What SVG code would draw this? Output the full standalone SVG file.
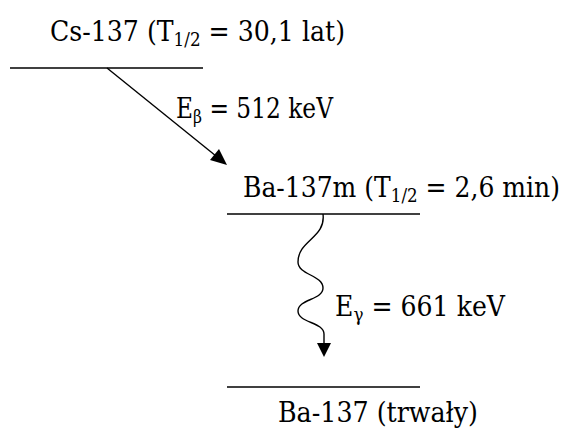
<svg xmlns="http://www.w3.org/2000/svg" width="571" height="430" viewBox="0 0 571 430">
<style>
text{font-family:'DejaVu Serif','Liberation Serif',serif;font-size:27px;fill:#000}
.s{font-size:18px}
.lv{stroke:#000;stroke-width:1.4;fill:none}
.c{stroke:#000;stroke-width:1.4;fill:none}
</style>
<rect width="571" height="430" fill="#fff"/>
<g id="cs137">
<line class="lv" x1="10" y1="68" x2="203" y2="68"/>
<text x="50" y="41" textLength="295" lengthAdjust="spacingAndGlyphs">Cs-137 (T<tspan class="s" dy="5">1/2</tspan><tspan dy="-5"> = 30,1 lat)</tspan></text>
</g>
<g id="ba137m">
<line class="lv" x1="227" y1="214" x2="420" y2="214"/>
<text x="243" y="197" textLength="317" lengthAdjust="spacingAndGlyphs">Ba-137m (T<tspan class="s" dy="5">1/2</tspan><tspan dy="-5"> = 2,6 min)</tspan></text>
</g>
<g id="ba137">
<line class="lv" x1="227" y1="387" x2="420" y2="387"/>
<text x="278" y="422" textLength="200" lengthAdjust="spacingAndGlyphs">Ba-137 (trwały)</text>
</g>
<g id="connectors">
<line class="c" x1="107" y1="68" x2="216" y2="156"/>
<polygon points="227,165 210,160 219,149" fill="#000"/>
<text x="176" y="118" textLength="157" lengthAdjust="spacingAndGlyphs">E<tspan class="s" dy="5">β</tspan><tspan dy="-5"> = 512 keV</tspan></text>
<path class="c" d="M323,214 C326,238 298,240 298,262 C298,275 323,275 323,288 C323,300 298,299 298,311 C298,323 324,322 324,334 L324,346"/>
<polygon points="324,357 317,343 331,343" fill="#000"/>
<text x="335" y="316" textLength="170" lengthAdjust="spacingAndGlyphs">E<tspan class="s" dy="5">γ</tspan><tspan dy="-5"> = 661 keV</tspan></text>
</g>
</svg>
